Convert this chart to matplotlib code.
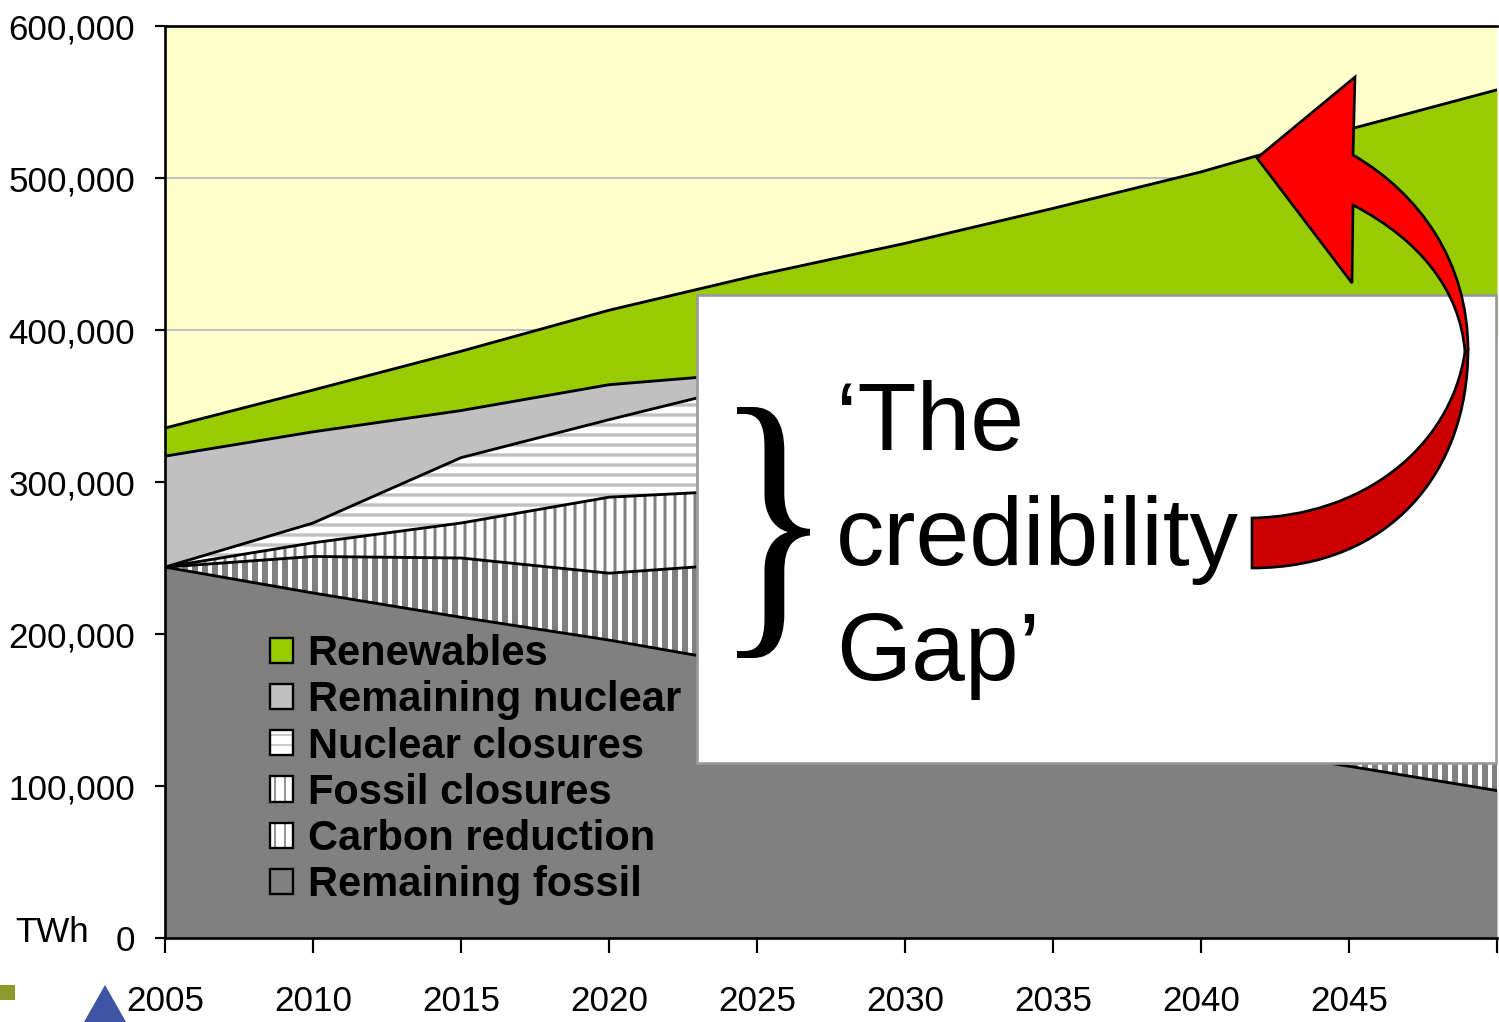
import numpy as np
import matplotlib
matplotlib.use('Agg')
from matplotlib import pyplot as plt
from matplotlib.patches import Patch, PathPatch, Rectangle, Polygon
from matplotlib.path import Path
from matplotlib.textpath import TextPath
from matplotlib.font_manager import FontProperties
from matplotlib.transforms import Affine2D
from matplotlib.legend_handler import HandlerTuple
from matplotlib.ticker import FuncFormatter

# electricity supply scenario, TWh, stacked from the bottom up
years = [2005, 2010, 2015, 2020, 2025, 2030, 2035, 2040, 2045, 2050]
remaining_fossil = [244000, 227000, 211000, 196000, 179000, 162000, 146000, 129000, 113000, 97000]
carbon_reduction = [0, 24000, 39000, 44000, 68000, 78000, 82000, 83000, 82000, 81000]
fossil_closures = [0, 9000, 23000, 50000, 48000, 60000, 77000, 96000, 115000, 134000]
nuclear_closures = [0, 13000, 43000, 51000, 70000, 75000, 75000, 77000, 80000, 83000]
remaining_nuclear = [73000, 60000, 31000, 23000, 7000, 5000, 3000, 2000, 1000, 0]
renewables = [18500, 27500, 39000, 49000, 64000, 77000, 97000, 117000, 141000, 163000]

x_ticks = [2005, 2010, 2015, 2020, 2025, 2030, 2035, 2040, 2045, 2050]
x_tick_labels = ['2005', '2010', '2015', '2020', '2025', '2030', '2035', '2040', '2045', '']
y_ticks = [0, 100000, 200000, 300000, 400000, 500000, 600000]

W, H, DPI = 1499, 1022, 120
SANS = ['Liberation Sans', 'DejaVu Sans']
GREY = '#808080'
LW = 1.7

fig = plt.figure(figsize=(W / DPI, H / DPI), dpi=DPI)
ax = fig.add_axes([165 / W, 1 - 938 / H, (1497 - 165) / W, (938 - 26) / H])
ax.set_facecolor('#ffffcc')

x = np.array(years)
layers = [
    # name, values, face, hatch, hatch colour, hatch width
    ('Remaining fossil', remaining_fossil, GREY, None, GREY, 1.0),
    ('Carbon reduction', carbon_reduction, 'white', '||', GREY, 3.6),
    ('Fossil closures', fossil_closures, 'white', '||', GREY, 1.8),
    ('Nuclear closures', nuclear_closures, 'white', '--', '#c0c0c0', 2.0),
    ('Remaining nuclear', remaining_nuclear, '#c0c0c0', None, GREY, 1.0),
    ('Renewables', renewables, '#99cc00', None, GREY, 1.0),
]

base = np.zeros(len(x))
handles = {}
for name, vals, face, hatch, hcol, hlw in layers:
    top = base + np.array(vals)
    with plt.rc_context({'hatch.color': hcol, 'hatch.linewidth': hlw}):
        coll = ax.fill_between(x, base, top, facecolor=face, hatch=hatch,
                               edgecolor=hcol if hatch else face, linewidth=0, zorder=2)
        if hasattr(coll, 'set_hatch_linewidth'):
            coll.set_hatch_linewidth(hlw)
        swatch = Patch(facecolor=face, edgecolor=hcol if hatch else face,
                       hatch=hatch, linewidth=0)
        if hasattr(swatch, 'set_hatch_linewidth'):
            swatch.set_hatch_linewidth(hlw)
    ax.plot(x, top, color='black', lw=LW, zorder=3, solid_joinstyle='miter')
    frame = Patch(facecolor='none', edgecolor='black', linewidth=1.4)
    handles[name] = (swatch, frame)
    base = top

ax.set_xlim(2005, 2050)
ax.set_ylim(0, 600000)
ax.set_xticks(x_ticks)
ax.set_xticklabels(x_tick_labels)
ax.set_yticks(y_ticks)
ax.yaxis.set_major_formatter(FuncFormatter(lambda v, p: '{:,.0f}'.format(v)))
ax.grid(True, axis='y', color='#c0c0c0', lw=1.2, zorder=1)
ax.set_axisbelow(True)

for lab in ax.get_xticklabels() + ax.get_yticklabels():
    lab.set_family(SANS)
    lab.set_fontsize(21)
ax.tick_params(axis='x', direction='out', length=9, width=1.3, pad=19)
ax.tick_params(axis='y', direction='out', length=6, width=1.3, pad=12)
ax.spines['right'].set_visible(False)
for s in ('left', 'bottom', 'top'):
    ax.spines[s].set_linewidth(1.6)

order = ['Renewables', 'Remaining nuclear', 'Nuclear closures', 'Fossil closures',
         'Carbon reduction', 'Remaining fossil']
leg = ax.legend([handles[n] for n in order], order,
                handler_map={tuple: HandlerTuple(ndivide=1, pad=0)},
                loc='upper left', bbox_to_anchor=((270 - 165) / 1332, (938 - 634) / 912),
                frameon=False, borderpad=0, borderaxespad=0,
                handlelength=0.55, handleheight=0.55, handletextpad=0.35,
                labelspacing=0.15,
                prop={'family': 'Liberation Sans', 'weight': 'bold', 'size': 25})
leg.set_zorder(5)

fig.text(15 / W, 1 - 942 / H, 'TWh', family=SANS, fontsize=21, va='baseline')

# pixel helper: image-style coordinates (origin top left)
to_fig = Affine2D().scale(1 / W, 1 / H) + fig.transFigure
def px(pts):
    return [(a, H - b) for a, b in pts]

# white callout box
ax.add_patch(Rectangle(((697 - 165) / 1332, (938 - 763) / 912), (1496 - 697) / 1332,
                       (763 - 295) / 912, transform=ax.transAxes, facecolor='white',
                       edgecolor='#999999', lw=1.6, zorder=6, clip_on=False))

for txt, yb in [('\u2018The', 450), ('credibility', 565), ('Gap\u2019', 680)]:
    fig.text(836 / W, 1 - yb / H, txt, family='Liberation Sans', fontsize=58,
             va='baseline', ha='left', zorder=8)

# stretched brace
tp = TextPath((0, 0), '}', size=100, prop=FontProperties(family='Liberation Serif'))
ext = tp.get_extents()
bx0, by0, bx1, by1 = 737, 407, 810, 658
brace_tr = (Affine2D().translate(-ext.x0, -ext.y0)
            .scale((bx1 - bx0) / ext.width, (by1 - by0) / ext.height)
            .translate(bx0, H - by1))
fig.patches.append(PathPatch(brace_tr.transform_path(tp), facecolor='black', lw=0,
                             transform=to_fig, zorder=8))

# curved red arrow: lower (dark) ribbon and upper ribbon with head
C4, L2 = Path.CURVE4, Path.LINETO
dark = px([(1252, 568), (1392, 568), (1468, 470), (1468, 350),
           (1465, 352), (1450, 450), (1360, 516), (1252, 518), (1252, 568)])
dark_codes = [Path.MOVETO, C4, C4, C4, L2, C4, C4, C4, Path.CLOSEPOLY]
bright = px([(1468, 350), (1468, 262), (1420, 194), (1353, 155),
             (1355, 77), (1257, 158), (1352, 283), (1353, 205),
             (1420, 240), (1460, 290), (1465, 352), (1468, 350)])
bright_codes = [Path.MOVETO, C4, C4, C4, L2, L2, L2, L2, C4, C4, C4, Path.CLOSEPOLY]
for verts, codes, col in [(dark, dark_codes, '#cc0000'), (bright, bright_codes, '#ff0000')]:
    fig.patches.append(PathPatch(Path(verts, codes), facecolor=col, edgecolor='black',
                                 lw=1.6, joinstyle='miter', transform=to_fig, zorder=9))

# bits of the slide footer
fig.patches.append(Rectangle((0, H - 1000), 15, 15, facecolor='#8c9a2c', lw=0,
                             transform=to_fig))
fig.patches.append(Polygon(px([(105, 985), (84, 1022), (126, 1022)]), closed=True,
                           facecolor='#3d55a3', lw=0, transform=to_fig))

fig.savefig('out.png', dpi=DPI)
